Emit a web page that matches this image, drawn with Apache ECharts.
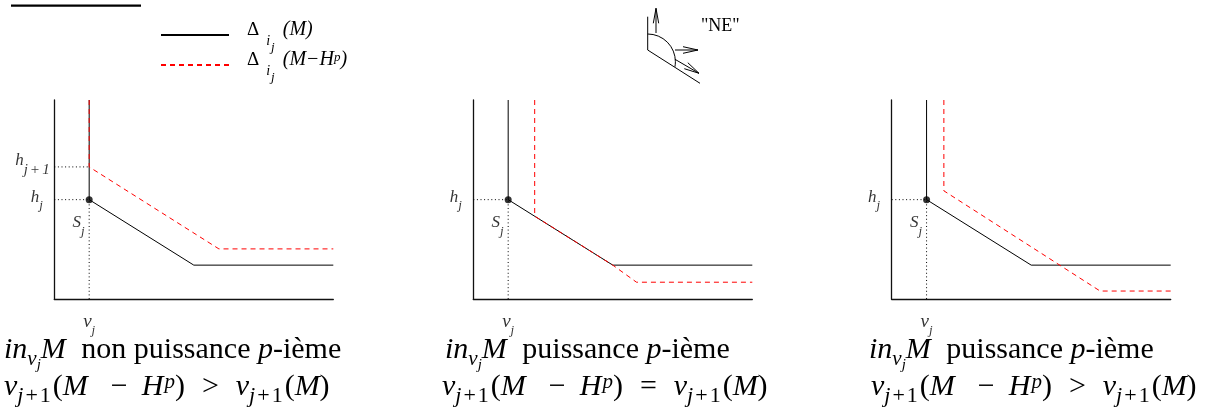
<!DOCTYPE html>
<html><head><meta charset="utf-8">
<script src="https://cdn.jsdelivr.net/npm/echarts@6/dist/echarts.min.js"></script>
<style>html,body{margin:0;padding:0;background:#fff}#c{width:1208px;height:410px}</style>
</head><body><div id="c"></div>
<script>
// ---------- DATA (diagram values, in axis units) ----------
const X_MAX = 10, Y_MAX = 7;
const vj = 1.25;      // abscissa of S_j
const hj = 3.5;       // ordinate of S_j
const hj1 = 4.65;     // h_{j+1} (panel 1)

const blackP1 = [[1.25, 7], [1.25, 3.5], [5.0, 1.2], [10, 1.2]];
const redP1   = [[1.25, 7], [1.25, 4.65], [5.9, 1.77], [10, 1.77]];
const blackP2 = [[1.25, 7], [1.25, 3.5], [5.0, 1.2], [10, 1.2]];
const redP2   = [[2.2, 7], [2.2, 2.92], [5.0, 1.2], [5.85, 0.6], [10, 0.6]];
const blackP3 = [[1.25, 7], [1.25, 3.5], [5.0, 1.2], [10, 1.2]];
const redP3   = [[1.87, 7], [1.87, 3.81], [7.47, 0.29], [10, 0.29]];

const blackSets = [blackP1, blackP2, blackP3];
const redSets = [redP1, redP2, redP3];

const legendNames = ['dM', 'dMH'];
const relation = ['>', '=', '>'];
const captionWord = [' non puissance ', ' puissance ', ' puissance '];

// ---------- LAYOUT / STYLE ----------
const F = '"Liberation Serif", "Times New Roman", serif';
const panelLeft = [54.3, 473.3, 891.7];
const captionLeft1 = [4, 445, 869];
const captionLeft2 = [4, 442, 871];

function st(size, italic, padding, lh) {
  const o = { fontFamily: F, fontSize: size, fontWeight: 'normal', color: '#000', lineHeight: lh || 24 };
  o.fontStyle = italic ? 'italic' : 'normal';
  if (padding) o.padding = padding;
  return o;
}

const labelRich = {
  h: st(17, true, [0, 0, 4, 0]),
  hs: st(13, true, [12, 0, 0, 0]),
  h2: st(17, true, [0, 0, 12, 0]),
  h2s: st(15, true, [6, 0, 0, 0]),
  h2o: st(15, false, [6, 3, 0, 3]),
  v: st(19, true, [0, 0, 2, 0]),
  vs: st(13, true, [16, 0, 0, 0]),
  S: st(17, true, [0, 0, 10, 0]),
  Sj: st(13, true, [8, 0, 0, 0])
};

const legendRich = {
  d: st(19, false, [0, 0, 10, 13], 40),
  i: st(14, true, [12, 0, 0, 7], 40),
  j: st(13, true, [25, 0, 0, 1], 40),
  m: st(20, true, [0, 0, 10, 8], 40),
  m2: st(20, true, [0, 0, 10, 0], 40),
  p: st(13, true, [0, 0, 14, 0], 40)
};

const LH = 38;
const capRich = {
  r: st(30, false, null, LH),
  it: st(30, true, null, LH),
  itM: st(30, true, [0, 8, 0, 0], LH),
  itM2: st(30, true, [0, 9, 0, 0], LH),
  op: st(30, false, [0, 14, 0, 14], LH),
  rel: st(30, false, [0, 17, 0, 17], LH),
  sb: st(21, true, [18, 0, 0, 0], LH),
  ss: st(15, true, [30, 0, 0, 0], LH),
  sbj: st(22, true, [18, 0, 0, 0], LH),
  sbp: st(22, false, [18, 2, 0, 2], LH),
  sbr: st(22, false, [18, 2, 0, 0], LH),
  sp: st(21, true, [0, 0, 9, 1], LH)
};

const grids = [], xAxes = [], yAxes = [], series = [], titles = [];
for (let i = 0; i < 3; i++) {
  grids.push({ left: panelLeft[i], top: 100, width: 279, height: 199.3, outerBoundsMode: 'none', containLabel: false });
  xAxes.push({ type: 'value', gridIndex: i, min: 0, max: X_MAX, axisTick: { show: false }, axisLabel: { show: false }, splitLine: { show: false },
    axisLine: { lineStyle: { color: '#111', width: 1.3 } } });
  yAxes.push({ type: 'value', gridIndex: i, min: 0, max: Y_MAX, axisTick: { show: false }, axisLabel: { show: false }, splitLine: { show: false },
    axisLine: { lineStyle: { color: '#111', width: 1.3 } } });

  // dotted guides
  series.push({ type: 'line', xAxisIndex: i, yAxisIndex: i, silent: true, symbol: 'none', z: 1,
    data: [[0, hj], [vj, hj], [vj, 0]],
    lineStyle: { color: '#000', width: 1, type: [1, 2.6] } });
  if (i === 0) {
    series.push({ type: 'line', xAxisIndex: i, yAxisIndex: i, silent: true, symbol: 'none', z: 1,
      data: [[0, hj1], [vj, hj1]],
      lineStyle: { color: '#000', width: 1, type: [1, 2.6] } });
  }
  // black polygon
  series.push({ name: legendNames[0], type: 'line', xAxisIndex: i, yAxisIndex: i, symbol: 'none', z: 2,
    data: blackSets[i], lineStyle: { color: '#000', width: 1 }, itemStyle: { color: '#000' } });
  // red dashed polygon
  series.push({ name: legendNames[1], type: 'line', xAxisIndex: i, yAxisIndex: i, symbol: 'none', z: 3,
    data: redSets[i], lineStyle: { color: '#ff0000', width: 1, type: [5, 4] }, itemStyle: { color: '#ff0000' } });
  // point S_j
  series.push({ type: 'scatter', xAxisIndex: i, yAxisIndex: i, silent: true, z: 4, symbolSize: 7,
    itemStyle: { color: '#000' }, data: [[vj, hj]],
    label: { show: true, position: 'left', distance: 1, offset: [0, 28], formatter: '{S|S}{Sj|j}', rich: labelRich } });
  // axis labels h_j, v_j (h_{j+1})
  const lab = [
    { value: [0, hj], label: { show: true, position: 'left', distance: 11, formatter: '{h|h}{hs|j}', rich: labelRich } },
    { value: [vj, 0], label: { show: true, position: 'bottom', distance: 11, formatter: '{v|v}{vs|j}', rich: labelRich } }
  ];
  if (i === 0) lab.push({ value: [0, hj1], label: { show: true, position: 'left', distance: 4,
    formatter: '{h2|h}{h2s|j}{h2o|+}{h2s|1}', rich: labelRich } });
  series.push({ type: 'scatter', xAxisIndex: i, yAxisIndex: i, silent: true, symbolSize: 1,
    itemStyle: { color: 'rgba(0,0,0,0)' }, data: lab });

  titles.push({ left: captionLeft1[i], top: 331, padding: 0,
    text: '{it|in}{sb|ν}{ss|j}{itM|M}{r|' + captionWord[i] + '}{it|p}{r|-ième}',
    textStyle: { rich: capRich, fontWeight: 'normal' } });
  titles.push({ left: captionLeft2[i], top: 368, padding: 0,
    text: '{it|ν}{sbj|j}{sbp|+}{sbr|1}{r|(}{itM2|M}{op|−}{it|H}{sp|p}{r|)}{rel|' + relation[i] + '}{it|ν}{sbj|j}{sbp|+}{sbr|1}{r|(}{it|M}{r|)}',
    textStyle: { rich: capRich, fontWeight: 'normal' } });
}

function legendFmt(name) {
  return name === legendNames[0]
    ? '{d|Δ}{i|i}{j|j}{m|(M)}'
    : '{d|Δ}{i|i}{j|j}{m|(M−H}{p|p}{m2|)}';
}
const legends = legendNames.map((n, k) => ({
  data: [n], left: 160, top: k === 0 ? 16 : 46, padding: 0, itemWidth: 68, itemHeight: 44,
  selectedMode: false, formatter: legendFmt, itemStyle: { opacity: 0 },
  textStyle: { rich: legendRich }
}));

// "NE" decoration and heading rule
const K = '#000';
function ln(x1, y1, x2, y2) { return { type: 'line', shape: { x1, y1, x2, y2 }, style: { stroke: K, lineWidth: 1 } }; }
function pl(pts) { return { type: 'polyline', shape: { points: pts }, style: { stroke: K, lineWidth: 1, fill: null } }; }
const graphics = [
  { type: 'rect', shape: { x: 11, y: 4.5, width: 130, height: 2.2 }, style: { fill: '#000' } },
  ln(647.7, 16.7, 647.7, 50),
  ln(647.7, 50, 700, 83.3),
  { type: 'arc', shape: { cx: 647.7, cy: 61.7, r: 27.7, startAngle: -Math.PI / 2, endAngle: 0.185, clockwise: true }, style: { stroke: K, lineWidth: 1, fill: null } },
  ln(656, 33, 656, 8.3), pl([[653.3, 23.3], [656, 8.3], [658.7, 23.3]]),
  ln(675, 50, 698, 50), pl([[683, 46.7], [698, 50], [683, 53.3]]),
  ln(675, 59.3, 699, 73.3), pl([[684.3, 68.7], [699, 73.3], [687.8, 62.7]]),
  { type: 'text', style: { text: '"NE"', x: 701, y: 17, fontSize: 18, fontFamily: F, fill: '#000' } }
];

const chart = echarts.init(document.getElementById('c'), null, { renderer: 'canvas' });
chart.setOption({
  animation: false,
  backgroundColor: '#fff',
  title: titles,
  legend: legends,
  grid: grids,
  xAxis: xAxes,
  yAxis: yAxes,
  series: series,
  graphic: graphics
});
</script></body></html>
